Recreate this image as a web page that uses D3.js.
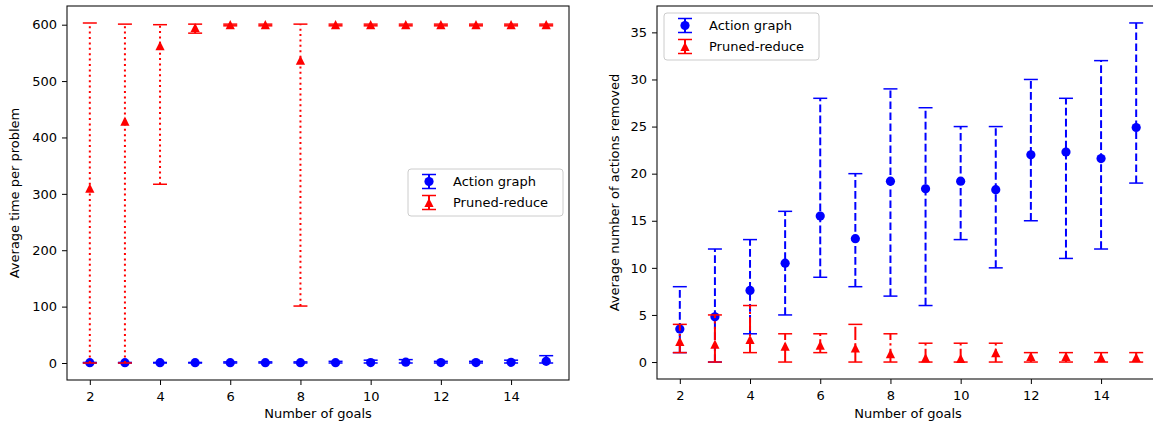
<!DOCTYPE html>
<html>
<head>
<meta charset="utf-8">
<script src="https://cdn.jsdelivr.net/npm/d3@7"></script>
<style>
body { margin: 0; background: #fff; }
text { font-family: "DejaVu Sans", sans-serif; font-size: 13px; fill: #000; }
</style>
</head>
<body>
<div id="container"></div>
<script>
let w = 1153;
let h = 423;

// DATA
const goals = [2, 3, 4, 5, 6, 7, 8, 9, 10, 11, 12, 13, 14, 15];
const xTicks = [2, 4, 6, 8, 10, 12, 14];
const seriesNames = ["Action graph", "Pruned-reduce"];

// left: average time per problem
const timeTicks = [0, 100, 200, 300, 400, 500, 600];
const timeGraphMean = [0.5, 0.5, 0.5, 0.5, 0.5, 0.5, 0.5, 0.6, 0.8, 1.5, 0.8, 0.8, 1.2, 3];
const timeGraphLow  = [0, 0, 0, 0, 0, 0, 0, 0, 0, 0, 0, 0, 0, 0];
const timeGraphHigh = [1, 1, 1, 1, 2, 2, 2, 3, 5, 6, 3, 3, 5, 13];
const timeReduceMean = [310, 429, 563, 595, 600, 600, 537, 600, 600, 600, 600, 600, 600, 600];
const timeReduceLow  = [0, 0, 317, 585, 598, 598, 101, 598, 598, 598, 598, 598, 598, 598];
const timeReduceHigh = [603, 601, 600, 601, 601, 601, 601, 601, 601, 601, 601, 601, 601, 601];

// right: average number of actions removed
const removedTicks = [0, 5, 10, 15, 20, 25, 30, 35];
const removedGraphMean = [3.5, 4.8, 7.6, 10.5, 15.5, 13.1, 19.2, 18.4, 19.2, 18.3, 22, 22.3, 21.6, 24.9];
const removedGraphLow  = [1, 0, 3, 5, 9, 8, 7, 6, 13, 10, 15, 11, 12, 19];
const removedGraphHigh = [8, 12, 13, 16, 28, 20, 29, 27, 25, 25, 30, 28, 32, 36];
const removedReduceMean = [2.2, 1.9, 2.4, 1.7, 1.8, 1.5, 0.9, 0.45, 0.4, 1.0, 0.6, 0.6, 0.5, 0.5];
const removedReduceLow  = [1, 0, 1, 0, 1, 0, 0, 0, 0, 0, 0, 0, 0, 0];
const removedReduceHigh = [4, 5, 6, 3, 3, 4, 3, 2, 2, 2, 1, 1, 1, 1];

// SVG
let viz = d3.select("#container").append("svg")
    .attr("width", w)
    .attr("height", h)
    .style("background-color", "white");

// matplotlib-ish 5% margins
function padded(ext) {
  let m = (ext[1] - ext[0]) * 0.05;
  return [ext[0] - m, ext[1] + m];
}

function marker(g, type, cx, cy, r, color) {
  if (type == "circle") {
    g.append("circle").attr("cx", cx).attr("cy", cy).attr("r", r).attr("fill", color);
  } else {
    g.append("path")
      .attr("d", `M${cx},${cy - r}L${cx - r},${cy + r}L${cx + r},${cy + r}Z`)
      .attr("fill", color);
  }
}

function panel(p) {
  let g = viz.append("g");
  let x = d3.scaleLinear().domain(padded(d3.extent(goals))).range([p.x0, p.x1]);
  let allVals = p.series.flatMap(s => s.low.concat(s.high));
  let y = d3.scaleLinear().domain(padded(d3.extent(allVals))).range([p.y1, p.y0]);

  // error bars
  p.series.forEach(s => {
    let sg = g.append("g");
    goals.forEach((gx, i) => {
      let cx = x(gx);
      sg.append("line")
        .attr("x1", cx).attr("x2", cx)
        .attr("y1", y(s.low[i])).attr("y2", y(s.high[i]))
        .attr("stroke", s.color).attr("stroke-width", 2)
        .attr("stroke-dasharray", s.dash);
      [s.low[i], s.high[i]].forEach(v => {
        sg.append("line")
          .attr("x1", cx - 7).attr("x2", cx + 7)
          .attr("y1", y(v)).attr("y2", y(v))
          .attr("stroke", s.color).attr("stroke-width", 1.5);
      });
      marker(sg, s.marker, cx, y(s.mean[i]), 4.6, s.color);
    });
  });

  // axes
  let xAxis = g.append("g").attr("transform", `translate(0,${p.y1})`)
    .call(d3.axisBottom(x).tickValues(xTicks).tickSize(5).tickPadding(7));
  let yAxis = g.append("g").attr("transform", `translate(${p.x0},0)`)
    .call(d3.axisLeft(y).tickValues(p.yTicks).tickSize(5).tickPadding(5));
  [xAxis, yAxis].forEach(a => {
    a.select(".domain").remove();
    a.attr("font-size", null).attr("font-family", null);
    a.selectAll("line").attr("stroke", "#000");
  });

  g.append("rect")
    .attr("x", p.x0).attr("y", p.y0)
    .attr("width", p.x1 - p.x0).attr("height", p.y1 - p.y0)
    .attr("fill", "none").attr("stroke", "#111").attr("stroke-width", 1.1);

  g.append("text")
    .attr("x", (p.x0 + p.x1) / 2).attr("y", 418)
    .attr("text-anchor", "middle")
    .text("Number of goals");
  g.append("text")
    .attr("transform", `translate(${p.labelX},${(p.y0 + p.y1) / 2}) rotate(-90)`)
    .attr("text-anchor", "middle")
    .text(p.yLabel);

  // legend
  let lg = g.append("g").attr("transform", `translate(${p.legX},${p.legY})`);
  lg.append("rect")
    .attr("width", 155).attr("height", 47).attr("rx", 3)
    .attr("fill", "white").attr("fill-opacity", 0.8)
    .attr("stroke", "#cccccc");
  p.series.forEach((s, i) => {
    let cy = 12.5 + i * 21;
    lg.append("line").attr("x1", 21).attr("x2", 21)
      .attr("y1", cy - 7).attr("y2", cy + 7)
      .attr("stroke", s.color).attr("stroke-width", 2);
    [cy - 7, cy + 7].forEach(v => {
      lg.append("line").attr("x1", 14).attr("x2", 28)
        .attr("y1", v).attr("y2", v)
        .attr("stroke", s.color).attr("stroke-width", 1.5);
    });
    marker(lg, s.marker, 21, cy, 4.6, s.color);
    lg.append("text").attr("x", 45).attr("y", cy + 4.5).text(seriesNames[i]);
  });
}

panel({
  x0: 67, x1: 569, y0: 6, y1: 380,
  yTicks: timeTicks,
  yLabel: "Average time per problem",
  labelX: 19,
  legX: 408, legY: 169,
  series: [
    {mean: timeGraphMean, low: timeGraphLow, high: timeGraphHigh, color: "#0000ff", marker: "circle", dash: "2,3.4"},
    {mean: timeReduceMean, low: timeReduceLow, high: timeReduceHigh, color: "#ff0000", marker: "triangle", dash: "2,3.4"}
  ]
});

panel({
  x0: 657, x1: 1159, y0: 6, y1: 379,
  yTicks: removedTicks,
  yLabel: "Average number of actions removed",
  labelX: 619,
  legX: 664, legY: 13,
  series: [
    {mean: removedGraphMean, low: removedGraphLow, high: removedGraphHigh, color: "#0000ff", marker: "circle", dash: "7.7,3.3"},
    {mean: removedReduceMean, low: removedReduceLow, high: removedReduceHigh, color: "#ff0000", marker: "triangle", dash: "13.3,3.3,2.1,3.3"}
  ]
});
</script>
</body>
</html>
